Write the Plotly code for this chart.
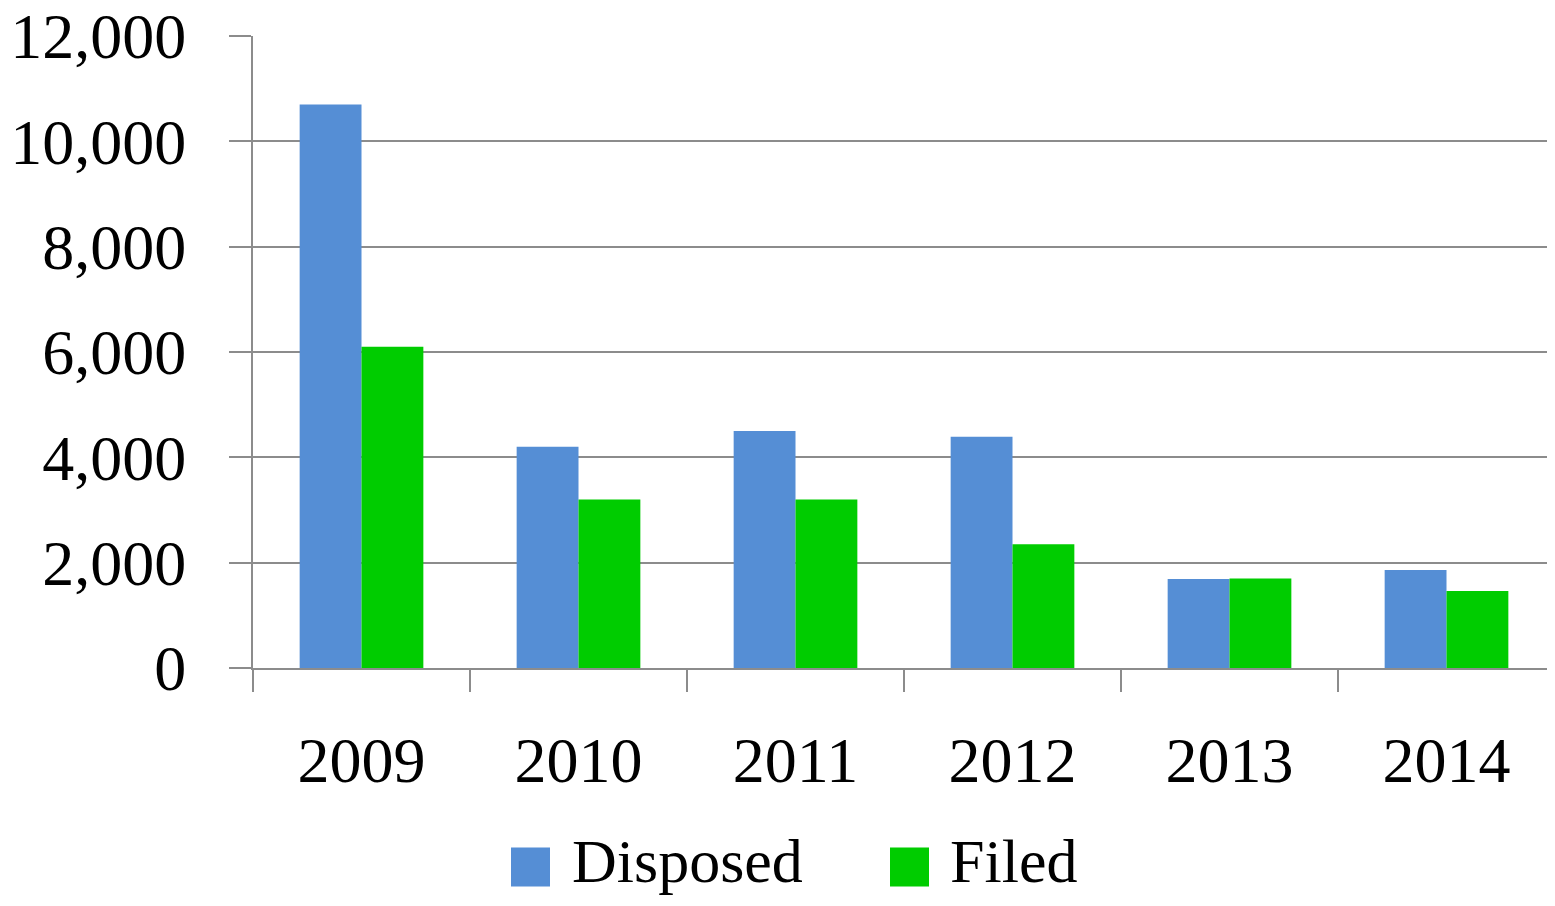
import plotly.graph_objects as go

years = ["2009", "2010", "2011", "2012", "2013", "2014"]
disposed = [10700, 4200, 4500, 4390, 1690, 1860]
filed = [6100, 3200, 3200, 2350, 1700, 1460]
y_ticks = [0, 2000, 4000, 6000, 8000, 10000, 12000]
y_tick_labels = ["0", "2,000", "4,000", "6,000", "8,000", "10,000", "12,000"]

series_names = ["Disposed", "Filed"]
series_colors = ["#558ED5", "#00CC00"]

FONT = "Palatino Linotype, Book Antiqua, Palatino, Liberation Serif, serif"
GRID = "#8C8C8C"

fig = go.Figure()
fig.add_trace(go.Bar(x=years, y=disposed, name=series_names[0],
                     marker=dict(color=series_colors[0], line=dict(width=0))))
fig.add_trace(go.Bar(x=years, y=filed, name=series_names[1],
                     marker=dict(color=series_colors[1], line=dict(width=0))))

# page has an 8px body margin; figure coordinates are page - 8
OFF = 8
W, H = 1560, 890
L, T = 253 - OFF, 36 - OFF
R = W - (1555 - OFF)
B = H - (668 - OFF)
pw, ph = W - L - R, H - T - B

fig.update_layout(
    width=W, height=H,
    margin=dict(l=L, r=R, t=T, b=B, pad=0, autoexpand=False),
    paper_bgcolor="white", plot_bgcolor="white",
    barmode="group", bargap=0.43, bargroupgap=0,
    showlegend=False,
    font=dict(family=FONT, size=64, color="black"),
)
fig.update_xaxes(
    type="category", tickson="boundaries", automargin=False,
    ticks="outside", ticklen=22, tickwidth=2, tickcolor=GRID,
    showline=True, linecolor=GRID, linewidth=2,
    showgrid=False, ticklabelstandoff=35,
    tickfont=dict(family=FONT, size=64),
)
fig.update_yaxes(
    range=[0, 12000], tickvals=y_ticks, ticktext=y_tick_labels,
    automargin=False, ticklabeloverflow="allow",
    ticks="outside", ticklen=22, tickwidth=2, tickcolor=GRID,
    showline=True, linecolor=GRID, linewidth=2,
    showgrid=True, gridcolor=GRID, gridwidth=2,
    zeroline=False, ticklabelstandoff=30,
    tickfont=dict(family=FONT, size=64),
)

# Legend drawn as squares + text below the plot (page pixel positions)
sq = 39
entries = [(511, 570), (890, 948)]
cy = 867
plot_bottom = 668
for (sx, tx), name, color in zip(entries, series_names, series_colors):
    fig.add_shape(type="rect", xref="paper", yref="paper",
                  x0=(sx - 253) / pw, x1=(sx + sq - 253) / pw,
                  y0=(plot_bottom - (cy - sq / 2)) / ph,
                  y1=(plot_bottom - (cy + sq / 2)) / ph,
                  fillcolor=color, line=dict(width=0))
    fig.add_annotation(xref="paper", yref="paper", x=(tx - 253) / pw,
                       y=(plot_bottom - 897) / ph, text=name, showarrow=False,
                       xanchor="left", yanchor="bottom",
                       font=dict(family=FONT, size=62, color="black"))

fig.write_html("out.html")
